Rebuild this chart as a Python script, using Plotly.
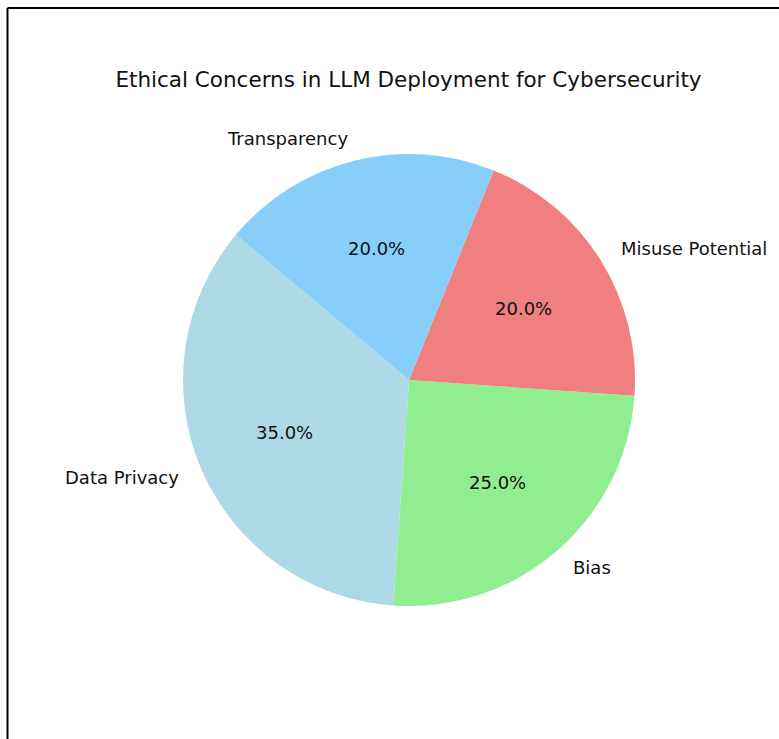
import math
import plotly.graph_objects as go

# ---- data ----
categories = ["Data Privacy", "Bias", "Misuse Potential", "Transparency"]
shares = [35, 25, 20, 20]
colors = ["#ADD8E6", "#90EE90", "#F08080", "#87CEFA"]
title_text = "Ethical Concerns in LLM Deployment for Cybersecurity"

W, H = 779, 739
CX, CY, R = 409, 380, 226          # pie centre / radius in px
START = 140                         # start angle (deg, ccw from east)
FONT = "DejaVu Sans"

dom_x = [(CX - R) / W, (CX + R) / W]
dom_y = [1 - (CY + R) / H, 1 - (CY - R) / H]

total = sum(shares)
# plotly (counterclockwise): rotation marks the ccw-most edge of the first slice
first_end = START + 360 * shares[0] / total
rotation = 90 - first_end
while rotation < -360:
    rotation += 360

fig = go.Figure(go.Pie(
    labels=categories, values=shares, sort=False,
    direction="counterclockwise", rotation=rotation,
    marker=dict(colors=colors, line=dict(width=0)),
    textinfo="none", hoverinfo="label+percent",
    showlegend=False, domain=dict(x=dom_x, y=dom_y),
))

annotations = []
theta = START
for lab, v in zip(categories, shares):
    span = 360 * v / total
    mid = math.radians(theta + span / 2)
    theta += span
    c, s = math.cos(mid), math.sin(mid)
    # percentage inside at 0.6 r
    px = CX + 0.6 * R * c
    py = CY - 0.6 * R * s
    annotations.append(dict(
        x=px / W, y=1 - py / H, xref="paper", yref="paper",
        text=f"{v / total * 100:.1f}%", showarrow=False,
        xanchor="center", yanchor="middle", borderpad=0,
        font=dict(family=FONT, size=18, color="#111111")))
    # label outside at 1.1 r
    lx = CX + 1.1 * R * c
    ly = CY - 1.1 * R * s
    annotations.append(dict(
        x=lx / W, y=1 - ly / H, xref="paper", yref="paper",
        text=lab, showarrow=False,
        xanchor="left" if c > 0 else "right", yanchor="middle", borderpad=0,
        font=dict(family=FONT, size=18, color="#111111")))

fig.update_layout(
    width=W, height=H, margin=dict(l=0, r=0, t=0, b=0),
    paper_bgcolor="white", plot_bgcolor="white",
    title=dict(text=title_text, x=(CX - 0.5) / W, xanchor="center",
               y=1 - 79 / H, yanchor="middle", xref="paper", yref="paper",
               font=dict(family=FONT, size=21.5, color="#111111")),
    annotations=annotations,
    shapes=[
        dict(type="line", xref="paper", yref="paper",
             x0=7.5 / W, x1=1.0, y0=1 - 8 / H, y1=1 - 8 / H,
             line=dict(color="black", width=2)),
        dict(type="line", xref="paper", yref="paper",
             x0=7.5 / W, x1=7.5 / W, y0=1 - 8 / H, y1=0,
             line=dict(color="black", width=2)),
    ],
)

fig.write_html("out.html")
